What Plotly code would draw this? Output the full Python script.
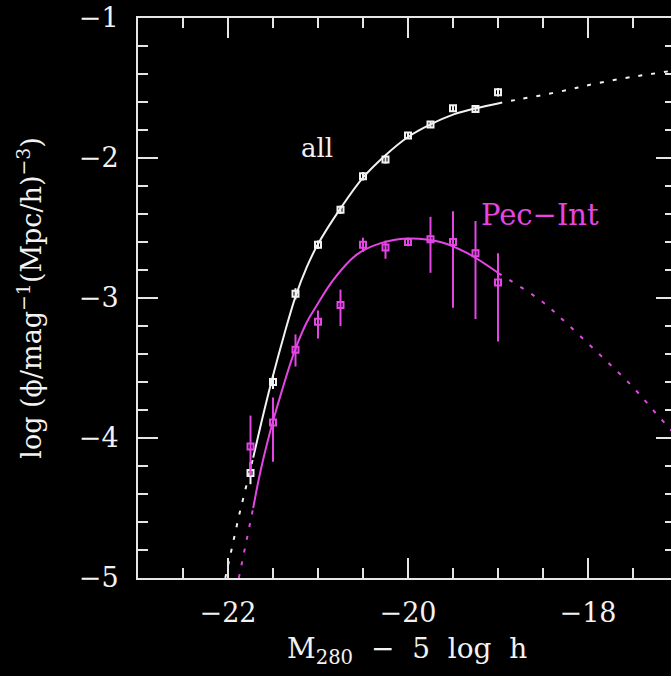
import plotly.graph_objects as go

# ---------------- data ----------------
# "all" sample: binned luminosity function points
all_x = [-21.75, -21.5, -21.25, -21.0, -20.75, -20.5, -20.25, -20.0, -19.75, -19.5, -19.25, -19.0]
all_y = [-4.25, -3.60, -2.97, -2.62, -2.37, -2.13, -2.01, -1.84, -1.76, -1.645, -1.65, -1.53]
all_err = [0.08, 0.05, 0.04, 0.03, 0.03, 0.03, 0.03, 0.02, 0.02, 0.02, 0.02, 0.03]

# "Pec-Int" sample
pec_x = [-21.75, -21.5, -21.25, -21.0, -20.75, -20.5, -20.25, -20.0, -19.75, -19.5, -19.25, -19.0]
pec_y = [-4.06, -3.89, -3.37, -3.17, -3.05, -2.62, -2.64, -2.60, -2.58, -2.60, -2.68, -2.89]
pec_err_plus = [0.22, 0.18, 0.11, 0.08, 0.11, 0.05, 0.05, 0.03, 0.16, 0.22, 0.23, 0.21]
pec_err_minus = [0.21, 0.28, 0.12, 0.12, 0.15, 0.05, 0.08, 0.03, 0.24, 0.47, 0.47, 0.42]

# fitted curves
all_fit_x = [-21.72, -21.6, -21.5, -21.375, -21.25, -21.125, -21.0, -20.75, -20.5, -20.25, -20.0, -19.75, -19.5, -19.25, -19.0]
all_fit_y = [-4.14, -3.81, -3.555, -3.26, -2.99, -2.78, -2.615, -2.36, -2.14, -1.98, -1.85, -1.76, -1.69, -1.645, -1.61]
all_lo_x = [-22.03, -21.95, -21.88, -21.8, -21.72]
all_lo_y = [-5.00, -4.76, -4.56, -4.35, -4.14]
all_hi_x = [-19.0, -18.8, -18.5, -18.2, -18.0, -17.6, -17.3, -17.0]
all_hi_y = [-1.61, -1.585, -1.55, -1.51, -1.48, -1.43, -1.40, -1.37]

pec_fit_x = [-21.72, -21.65, -21.57, -21.5, -21.4, -21.26, -21.13, -21.03, -20.83, -20.57, -20.31, -20.01, -19.64, -19.34, -19.0]
pec_fit_y = [-4.50, -4.27, -4.05, -3.88, -3.66, -3.38, -3.18, -3.07, -2.87, -2.69, -2.61, -2.575, -2.60, -2.68, -2.82]
pec_lo_x = [-21.88, -21.83, -21.78, -21.72]
pec_lo_y = [-5.00, -4.84, -4.68, -4.50]
pec_hi_x = [-19.0, -18.5, -18.29, -17.86, -17.51, -17.25, -17.0]
pec_hi_y = [-2.82, -3.03, -3.15, -3.41, -3.63, -3.82, -4.00]

x_ticks = [-22, -20, -18]
y_ticks = [-1, -2, -3, -4, -5]

WHITE = "#f2f2f2"
MAG = "#e445e4"
FONT = "DejaVu Serif"
DOT = "4px,9px"

fig = go.Figure()

# curves
fig.add_trace(go.Scatter(x=all_fit_x, y=all_fit_y, mode="lines", line=dict(color=WHITE, width=2, shape="spline")))
fig.add_trace(go.Scatter(x=all_lo_x, y=all_lo_y, mode="lines", line=dict(color=WHITE, width=2, dash=DOT)))
fig.add_trace(go.Scatter(x=all_hi_x, y=all_hi_y, mode="lines", line=dict(color=WHITE, width=2, dash=DOT, shape="spline")))
fig.add_trace(go.Scatter(x=pec_fit_x, y=pec_fit_y, mode="lines", line=dict(color=MAG, width=2, shape="spline")))
fig.add_trace(go.Scatter(x=pec_lo_x, y=pec_lo_y, mode="lines", line=dict(color=MAG, width=2, dash=DOT)))
fig.add_trace(go.Scatter(x=pec_hi_x, y=pec_hi_y, mode="lines", line=dict(color=MAG, width=2, dash=DOT, shape="spline")))

# data points
fig.add_trace(go.Scatter(
    x=all_x, y=all_y, mode="markers",
    marker=dict(symbol="square-open", size=6, color=WHITE, line=dict(width=2, color=WHITE)),
    error_y=dict(type="data", array=all_err, color=WHITE, thickness=2, width=0),
))
fig.add_trace(go.Scatter(
    x=pec_x, y=pec_y, mode="markers",
    marker=dict(symbol="square-open", size=6, color=MAG, line=dict(width=2, color=MAG)),
    error_y=dict(type="data", symmetric=False, array=pec_err_plus, arrayminus=pec_err_minus,
                 color=MAG, thickness=2, width=0),
))

# dummy trace for right-hand tick axis
fig.add_trace(go.Scatter(x=[None], y=[None], yaxis="y2", hoverinfo="skip"))

# labels
fig.add_annotation(x=-21.01, y=-1.93, text="all", showarrow=False,
                   font=dict(family=FONT, size=26, color=WHITE))
fig.add_annotation(x=-18.53, y=-2.407, text="Pec\u2212Int", showarrow=False,
                   font=dict(family=FONT, size=29, color=MAG))

# axis titles
fig.add_annotation(xref="paper", yref="paper", x=0.505, y=-0.13, yanchor="middle",
                   text="M<sub>280</sub>  \u2212  5  log  h", showarrow=False,
                   font=dict(family=FONT, size=28, color=WHITE))
fig.add_annotation(xref="paper", yref="paper", x=-0.205, y=0.5, xanchor="center", textangle=-90,
                   text="log (\u03d5/mag<sup>\u22121</sup>(Mpc/h)<sup>\u22123</sup>)", showarrow=False,
                   font=dict(family=FONT, size=27, color=WHITE))

AX = "#e6e6e6"
fig.update_layout(
    width=671, height=676,
    margin=dict(l=138, r=0, t=18, b=98),
    paper_bgcolor="black", plot_bgcolor="black",
    showlegend=False,
    xaxis=dict(
        range=[-23, -23 + 533 / 90], showgrid=False, zeroline=False,
        showline=True, linecolor=AX, linewidth=2, mirror="ticks",
        ticks="inside", ticklen=20, tickwidth=2, tickcolor=AX,
        tickvals=x_ticks, ticklabelstandoff=10,
        minor=dict(dtick=0.5, tick0=-23, ticks="inside", ticklen=10, tickwidth=2, tickcolor=AX, showgrid=False),
        tickfont=dict(family=FONT, size=27, color=WHITE),
    ),
    yaxis=dict(
        range=[-5, -1], showgrid=False, zeroline=False,
        showline=True, linecolor=AX, linewidth=2,
        ticks="inside", ticklen=20, tickwidth=2, tickcolor=AX,
        tickvals=y_ticks, ticklabelstandoff=12,
        minor=dict(dtick=0.2, tick0=-5, ticks="inside", ticklen=10, tickwidth=2, tickcolor=AX, showgrid=False),
        tickfont=dict(family=FONT, size=27, color=WHITE),
    ),
    yaxis2=dict(
        range=[-5, -1], overlaying="y", side="right", anchor="free", position=1,
        showgrid=False, zeroline=False, showline=False, showticklabels=False,
        ticks="inside", ticklen=15, tickwidth=2, tickcolor=AX, tickvals=y_ticks,
        minor=dict(dtick=0.2, tick0=-5, ticks="inside", ticklen=6, tickwidth=2, tickcolor=AX, showgrid=False),
    ),
)

fig.write_html("out.html")
